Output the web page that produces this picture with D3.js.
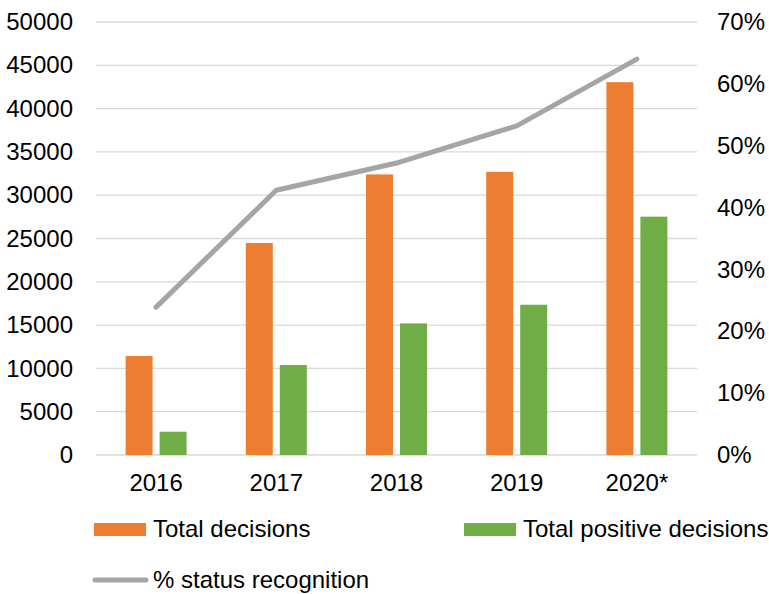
<!DOCTYPE html>
<html>
<head>
<meta charset="utf-8">
<script src="https://cdn.jsdelivr.net/npm/d3@7"></script>
<style>
  body { margin: 0; background: #fff; }
  text { font-family: "Liberation Sans", Arial, sans-serif; fill: #000; }
</style>
</head>
<body>
<div id="chart"></div>
<script>
// data
var years = ["2016", "2017", "2018", "2019", "2020*"];
var totalDecisions = [11430, 24480, 32400, 32700, 43050];
var positiveDecisions = [2690, 10390, 15200, 17350, 27520];
var statusPct = [0.239, 0.428, 0.472, 0.532, 0.640];
var leftTicks = [0, 5000, 10000, 15000, 20000, 25000, 30000, 35000, 40000, 45000, 50000];
var rightTicks = [0, 0.1, 0.2, 0.3, 0.4, 0.5, 0.6, 0.7];

var width = 769, height = 594;
var plotLeft = 96, plotRight = 697, plotTop = 22, plotBottom = 455;
var fontSize = "24px";

var svg = d3.select("#chart").append("svg").attr("width", width).attr("height", height);

var x = d3.scaleBand().domain(years).range([plotLeft, plotRight]);
var y = d3.scaleLinear().domain([0, 50000]).range([plotBottom, plotTop]);
var y2 = d3.scaleLinear().domain([0, 0.7]).range([plotBottom, plotTop]);

var barW = 27, gap = 7;

// gridlines
svg.append("g").selectAll("line").data(leftTicks).enter().append("line")
  .attr("x1", plotLeft).attr("x2", plotRight)
  .attr("y1", function (d) { return y(d); }).attr("y2", function (d) { return y(d); })
  .attr("stroke", "#d9d9d9").attr("stroke-width", 1.3);

// left axis
var yAxis = svg.append("g").attr("transform", "translate(" + plotLeft + ",0)")
  .call(d3.axisLeft(y).tickValues(leftTicks).tickSize(0).tickPadding(23).tickFormat(d3.format("d")));
yAxis.select(".domain").remove();
yAxis.selectAll("text").style("font-size", fontSize);

// right axis
var y2Axis = svg.append("g").attr("transform", "translate(" + plotRight + ",0)")
  .call(d3.axisRight(y2).tickValues(rightTicks).tickSize(0).tickPadding(20).tickFormat(d3.format(".0%")));
y2Axis.select(".domain").remove();
y2Axis.selectAll("text").style("font-size", fontSize);

// x axis labels
var xAxis = svg.append("g").attr("transform", "translate(0," + plotBottom + ")")
  .call(d3.axisBottom(x).tickSize(0).tickPadding(19));
xAxis.select(".domain").remove();
xAxis.selectAll("text").style("font-size", fontSize);

// bars
svg.append("g").selectAll("rect").data(totalDecisions).enter().append("rect")
  .attr("x", function (d, i) { return x(years[i]) + x.bandwidth() / 2 - gap / 2 - barW; })
  .attr("y", function (d) { return y(d); })
  .attr("width", barW)
  .attr("height", function (d) { return plotBottom - y(d); })
  .style("fill", "#ed7d31");

svg.append("g").selectAll("rect").data(positiveDecisions).enter().append("rect")
  .attr("x", function (d, i) { return x(years[i]) + x.bandwidth() / 2 + gap / 2; })
  .attr("y", function (d) { return y(d); })
  .attr("width", barW)
  .attr("height", function (d) { return plotBottom - y(d); })
  .style("fill", "#70ad47");

// line
var line = d3.line()
  .x(function (d, i) { return x(years[i]) + x.bandwidth() / 2; })
  .y(function (d) { return y2(d); });
svg.append("path").datum(statusPct).attr("d", line)
  .attr("fill", "none").attr("stroke", "#a5a5a5").attr("stroke-width", 5)
  .attr("stroke-linecap", "round").attr("stroke-linejoin", "round");

// legend
var legend = svg.append("g");
legend.append("rect").attr("x", 94).attr("y", 523).attr("width", 52).attr("height", 13).style("fill", "#ed7d31");
legend.append("text").attr("x", 153).attr("y", 537).style("font-size", fontSize).text("Total decisions");
legend.append("rect").attr("x", 464).attr("y", 523).attr("width", 52).attr("height", 13).style("fill", "#70ad47");
legend.append("text").attr("x", 523).attr("y", 537).style("font-size", fontSize).text("Total positive decisions");
legend.append("line").attr("x1", 95).attr("x2", 146).attr("y1", 580).attr("y2", 580)
  .attr("stroke", "#a5a5a5").attr("stroke-width", 5).attr("stroke-linecap", "round");
legend.append("text").attr("x", 153).attr("y", 588).style("font-size", fontSize).text("% status recognition");
</script>
</body>
</html>
